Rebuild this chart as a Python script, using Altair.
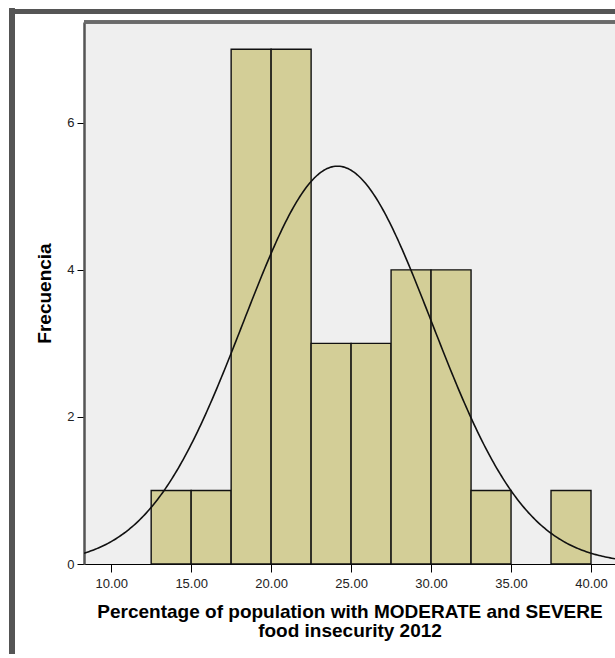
import altair as alt
import pandas as pd

# Histogram bins (start of each bin) and counts
bin_start = [12.5, 15.0, 17.5, 20.0, 22.5, 25.0, 27.5, 30.0, 32.5, 37.5]
counts = [1, 1, 7, 7, 3, 3, 4, 4, 1, 1]
bin_width = 2.5

# Fitted normal curve parameters
mean_val = 24.15
sd_val = 5.9
n_total = 32

x_ticks = [10, 15, 20, 25, 30, 35, 40]
y_ticks = [0, 2, 4, 6]
x_domain = [8.3, 41.5]
y_domain = [0, 7.37]

W, H = 531, 542
FONT = "Liberation Sans"

bars_df = pd.DataFrame({
    "start": bin_start,
    "end": [s + bin_width for s in bin_start],
    "count": counts,
    "base": [0] * len(counts),
})

xscale = alt.Scale(domain=x_domain, nice=False, zero=False)
yscale = alt.Scale(domain=y_domain, nice=False, zero=True)

x_title = ["Percentage of population with MODERATE and SEVERE", "food insecurity 2012"]

bars = alt.Chart(bars_df).mark_bar(
    fill="#d3ce97", stroke="#111", strokeWidth=1.4
).encode(
    x=alt.X("start:Q", scale=xscale,
            axis=alt.Axis(values=x_ticks, format=".2f", title=x_title,
                          grid=False, tickSize=8, tickColor="#000",
                          domainColor="#000", domainWidth=1.2,
                          labelFont=FONT, labelFontSize=13, labelColor="#222",
                          labelPadding=5,
                          titleFont=FONT, titleFontSize=19, titleFontWeight="bold",
                          titleColor="#000", titlePadding=12, titleLineHeight=19)),
    x2="end:Q",
    y=alt.Y("count:Q", scale=yscale,
            axis=alt.Axis(values=y_ticks, format="d", title="Frecuencia",
                          grid=False, tickSize=7, tickColor="#000",
                          domainColor="#555", domainWidth=2.5,
                          labelFont=FONT, labelFontSize=13, labelColor="#222",
                          labelPadding=3,
                          titleFont=FONT, titleFontSize=19, titleFontWeight="bold",
                          titleColor="#000", titlePadding=12)),
    y2="base:Q",
)

curve = alt.Chart(alt.sequence(8.3, 41.6, 0.1, as_="xv")).transform_calculate(
    dens=f"{n_total}*{bin_width}*densityNormal(datum.xv, {mean_val}, {sd_val})"
).mark_line(color="#111", strokeWidth=1.6, clip=True).encode(
    x=alt.X("xv:Q", scale=xscale),
    y=alt.Y("dens:Q", scale=yscale),
)

top_border = alt.Chart(bars_df).mark_rule(color="#6a6a6a", strokeWidth=2.5).encode(
    x=alt.value(0), x2=alt.value(W), y=alt.value(0)
)

frame_left = alt.Chart(bars_df).mark_rule(color="#555", strokeWidth=5).encode(
    x=alt.value(-72), y=alt.value(-13.5), y2=alt.value(640)
)
frame_top = alt.Chart(bars_df).mark_rule(color="#555", strokeWidth=5).encode(
    x=alt.value(-74.5), x2=alt.value(W + 5), y=alt.value(-10.5)
)

chart = alt.layer(bars, curve, top_border, frame_left, frame_top).properties(
    width=W, height=H,
    autosize=alt.AutoSizeParams(type="none"),
    padding={"left": 84, "top": 22, "right": 0, "bottom": 90},
    background="white",
).configure_view(fill="#efefef", strokeWidth=0)

chart.save("out.html", embed_options={"renderer": "svg", "actions": False})
